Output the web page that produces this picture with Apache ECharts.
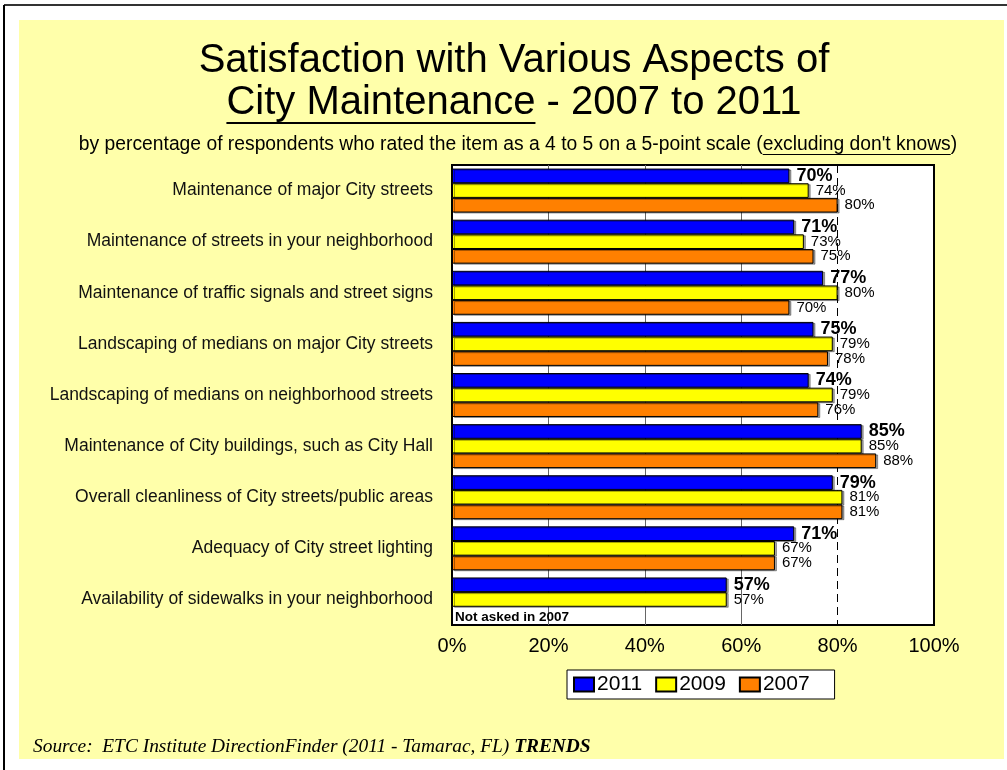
<!DOCTYPE html>
<html>
<head>
<meta charset="utf-8">
<script src="https://cdn.jsdelivr.net/npm/echarts@6/dist/echarts.min.js"></script>
<style>
  html, body { margin: 0; padding: 0; background: #fff; }
  #chart { width: 1007px; height: 770px; }
</style>
</head>
<body>
<div id="chart"></div>
<script>
// categories, top to bottom
const categories = [
  'Maintenance of major City streets',
  'Maintenance of streets in your neighborhood',
  'Maintenance of traffic signals and street signs',
  'Landscaping of medians on major City streets',
  'Landscaping of medians on neighborhood streets',
  'Maintenance of City buildings, such as City Hall',
  'Overall cleanliness of City streets/public areas',
  'Adequacy of City street lighting',
  'Availability of sidewalks in your neighborhood'
]
const values2011 = [70, 71, 77, 75, 74, 85, 79, 71, 57]
const values2009 = [74, 73, 80, 79, 79, 85, 81, 67, 57]
const values2007 = [80, 75, 70, 78, 76, 88, 81, 67, null] // not asked in 2007
const xTicks = [0, 20, 40, 60, 80, 100]

const chart = echarts.init(document.getElementById('chart'))

// measure text so the underlines sit under the right words
const ctx = document.createElement('canvas').getContext('2d')
const textWidth = (s, font) => { ctx.font = font; return ctx.measureText(s).width }

const titleFont = '40px "Liberation Sans"'
const title2a = 'City Maintenance'
const title2 = title2a + ' - 2007 to 2011'
const t2w = textWidth(title2, titleFont)
const t2x = 514 - t2w / 2
const t2uw = textWidth(title2a, titleFont)

const subFont = '19.3px "Liberation Sans"'
const subPre = 'by percentage of respondents who rated the item as a 4 to 5 on a 5-point scale ('
const subU = "excluding don't knows"
const subText = subPre + subU + ')'
const sw = textWidth(subText, subFont)
const sx = 518 - sw / 2
const su1 = sx + textWidth(subPre, subFont)
const su2 = su1 + textWidth(subU, subFont)

const barStyle = color => ({
  color,
  borderColor: '#000',
  borderWidth: 1,
  shadowColor: 'rgba(0,0,0,0.35)',
  shadowOffsetX: 2,
  shadowOffsetY: 1
})

const label = (bold) => ({
  show: true,
  position: 'right',
  distance: 7,
  formatter: '{c}%',
  color: '#000',
  fontFamily: 'Liberation Sans',
  fontSize: bold ? 18 : 15,
  fontWeight: bold ? 'bold' : 'normal'
})

const option = {
  backgroundColor: '#fff',
  animation: false,
  graphic: [
    { type: 'rect', shape: { x: 19, y: 20, width: 985, height: 739 }, style: { fill: '#FFFFAA' }, z: -10 },
    { type: 'line', shape: { x1: 4, y1: 5, x2: 1007, y2: 5 }, style: { stroke: '#333', lineWidth: 2 } },
    { type: 'line', shape: { x1: 4, y1: 5, x2: 4, y2: 770 }, style: { stroke: '#000', lineWidth: 2 } },
    {
      type: 'text', x: 514, y: 41,
      style: { text: 'Satisfaction with Various Aspects of', font: titleFont, fill: '#000', textAlign: 'center' }
    },
    {
      type: 'text', x: t2x, y: 83,
      style: { text: title2, font: titleFont, fill: '#000' }
    },
    { type: 'line', shape: { x1: t2x, y1: 123, x2: t2x + t2uw, y2: 123 }, style: { stroke: '#000', lineWidth: 2 } },
    {
      type: 'text', x: sx, y: 135,
      style: { text: subText, font: subFont, fill: '#000' }
    },
    { type: 'line', shape: { x1: su1, y1: 154.5, x2: su2, y2: 154.5 }, style: { stroke: '#000', lineWidth: 1 } },
    {
      type: 'text', x: 455, y: 610,
      style: { text: 'Not asked in 2007', font: 'bold 13.5px "Liberation Sans"', fill: '#000' }, z: 20
    },
    {
      type: 'text', x: 33, y: 737,
      style: {
        text: '{a|Source:  ETC Institute DirectionFinder (2011 - Tamarac, FL) }{b|TRENDS}',
        rich: {
          a: { font: 'italic 19.4px "Liberation Serif"', fill: '#000' },
          b: { font: 'italic bold 19.4px "Liberation Serif"', fill: '#000' }
        }
      }
    }
  ],
  legend: {
    left: 567,
    top: 670,
    data: ['2011', '2009', '2007'],
    backgroundColor: '#fff',
    borderColor: '#000',
    borderWidth: 1,
    padding: [4, 25, 4, 6],
    itemWidth: 20,
    itemHeight: 14,
    itemGap: 13,
    icon: 'rect',
    textStyle: { fontFamily: 'Liberation Sans', fontSize: 21, color: '#000', padding: [0, 0, 0, -2] }
  },
  grid: {
    left: 452,
    right: 73,
    top: 165,
    bottom: 145,
    show: true,
    backgroundColor: '#fff',
    borderColor: '#000',
    borderWidth: 2
  },
  xAxis: {
    type: 'value',
    min: xTicks[0],
    max: xTicks[xTicks.length - 1],
    interval: 20,
    axisLine: { show: false },
    axisTick: { show: false },
    splitLine: { show: false },
    axisLabel: {
      formatter: '{value}%',
      margin: 11,
      color: '#000',
      fontFamily: 'Liberation Sans',
      fontSize: 20
    }
  },
  yAxis: {
    type: 'category',
    data: categories,
    inverse: true,
    axisLine: { show: false },
    axisTick: { show: false },
    axisLabel: {
      margin: 19,
      color: '#111',
      fontFamily: 'Liberation Sans',
      fontSize: 17.5
    }
  },
  series: [
    {
      name: '2011', type: 'bar', data: values2011,
      barGap: '0%', barCategoryGap: '14%',
      itemStyle: barStyle('#0000FF'), label: label(true),
      markLine: {
        silent: true,
        symbol: 'none',
        z: 1,
        label: { show: false },
        data: [
          { xAxis: 20, lineStyle: { color: '#666', width: 1, type: 'solid' } },
          { xAxis: 40, lineStyle: { color: '#666', width: 1, type: 'solid' } },
          { xAxis: 60, lineStyle: { color: '#666', width: 1, type: 'solid' } },
          { xAxis: 80, lineStyle: { color: '#000', width: 1, type: [8, 5] } }
        ]
      }
    },
    { name: '2009', type: 'bar', data: values2009, itemStyle: barStyle('#FFFF00'), label: label(false) },
    { name: '2007', type: 'bar', data: values2007, itemStyle: barStyle('#FF8000'), label: label(false) }
  ]
}

chart.setOption(option)
</script>
</body>
</html>
